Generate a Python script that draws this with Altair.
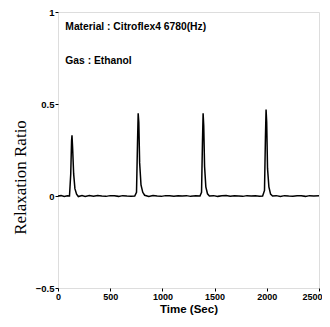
import altair as alt
import pandas as pd

time_sec = [0, 30, 60, 90, 110, 122, 130, 134, 140, 150, 162, 178, 195, 230, 260, 300, 340, 380,
            420, 460, 500, 540, 580, 620, 660, 700, 735, 752, 762, 768, 774, 782, 795, 812, 830,
            870, 910, 950, 990, 1030, 1070, 1110, 1150, 1190, 1230, 1270, 1320, 1360, 1375, 1384,
            1390, 1396, 1404, 1416, 1432, 1450, 1490, 1530, 1570, 1610, 1650, 1690, 1730, 1770,
            1810, 1850, 1890, 1930, 1960, 1978, 1987, 1993, 1999, 2007, 2020, 2036, 2055, 2090,
            2130, 2170, 2210, 2250, 2290, 2330, 2370, 2410, 2450, 2500]
ratio = [0.0, 0.002, -0.002, 0.001, 0.0, 0.12, 0.3, 0.33, 0.26, 0.12, 0.04, 0.01, -0.003, 0.002,
         -0.002, 0.003, -0.001, 0.003, 0.0, -0.002, 0.002, 0.001, -0.002, 0.002, 0.0, -0.001,
         0.0, 0.02, 0.3, 0.45, 0.4, 0.18, 0.06, 0.02, 0.004, -0.002, 0.003, 0.0, -0.002, 0.002,
         0.001, -0.001, 0.002, 0.0, 0.002, -0.002, 0.001, 0.0, 0.02, 0.3, 0.45, 0.38, 0.16, 0.05,
         0.012, 0.0, 0.002, -0.002, 0.001, 0.003, -0.001, 0.002, 0.0, -0.002, 0.002, 0.0, 0.002,
         -0.001, 0.0, 0.03, 0.32, 0.47, 0.4, 0.15, 0.05, 0.01, 0.0, 0.002, -0.002, 0.002, 0.0,
         -0.001, 0.002, 0.001, -0.002, 0.002, 0.0, 0.001]

x_ticks = [0, 500, 1000, 1500, 2000, 2500]
y_ticks = [-0.5, 0, 0.5, 1]
notes = ["Material : Citroflex4 6780(Hz)", "Gas : Ethanol"]
note_y = [0.92, 0.735]

df = pd.DataFrame({"t": time_sec, "r": ratio})
notes_df = pd.DataFrame({"text": notes, "y": note_y, "x": [70, 70]})

font = "Liberation Sans"

line = alt.Chart(df).mark_line(color="black", strokeWidth=1.5).encode(
    x=alt.X("t:Q", scale=alt.Scale(domain=[0, 2500], nice=False),
            axis=alt.Axis(values=x_ticks, title="Time (Sec)", grid=False, format="d",
                          labelFont=font, labelFontWeight="bold", labelFontSize=9,
                          labelColor="black", titleFont=font, titleFontWeight="bold",
                          titleFontSize=11.5, titleColor="black", tickSize=3, tickColor="black",
                          domain=False, labelPadding=1, titlePadding=2, labelFlush=False,
                          labelAlign={"condition": {"test": "datum.value >= 2500", "value": "right"},
                                      "value": "center"},
                          labelOffset={"condition": {"test": "datum.value >= 2500", "value": 3},
                                       "value": 0})),
    y=alt.Y("r:Q", scale=alt.Scale(domain=[-0.5, 1], nice=False),
            axis=alt.Axis(values=y_ticks, title="Relaxation Ratio", grid=False,
                          labelExpr="datum.value == 0 ? '0' : (datum.value == 1 ? '1' : format(datum.value, '.1f'))",
                          labelFont=font, labelFontWeight="bold", labelFontSize=9.5,
                          labelColor="black", titleFont="Liberation Serif",
                          titleFontWeight="normal", titleFontSize=17, titleColor="black",
                          tickSize=3, tickColor="black", domain=False, labelPadding=1,
                          titlePadding=6, titleY=165)),
)

text = alt.Chart(notes_df).mark_text(align="left", baseline="middle", font=font,
                                       fontWeight="bold", fontSize=10.3, color="black").encode(
    x="x:Q", y="y:Q", text="text:N"
)

chart = alt.layer(line, text).properties(
    width=261, height=276,
    autosize=alt.AutoSizeParams(type="none"),
    padding={"left": 50, "top": 4, "right": 3, "bottom": 31},
).configure_view(stroke="black", strokeWidth=1.5).configure(background="white")

chart.save("out.html", embed_options={"renderer": "svg", "actions": False})
